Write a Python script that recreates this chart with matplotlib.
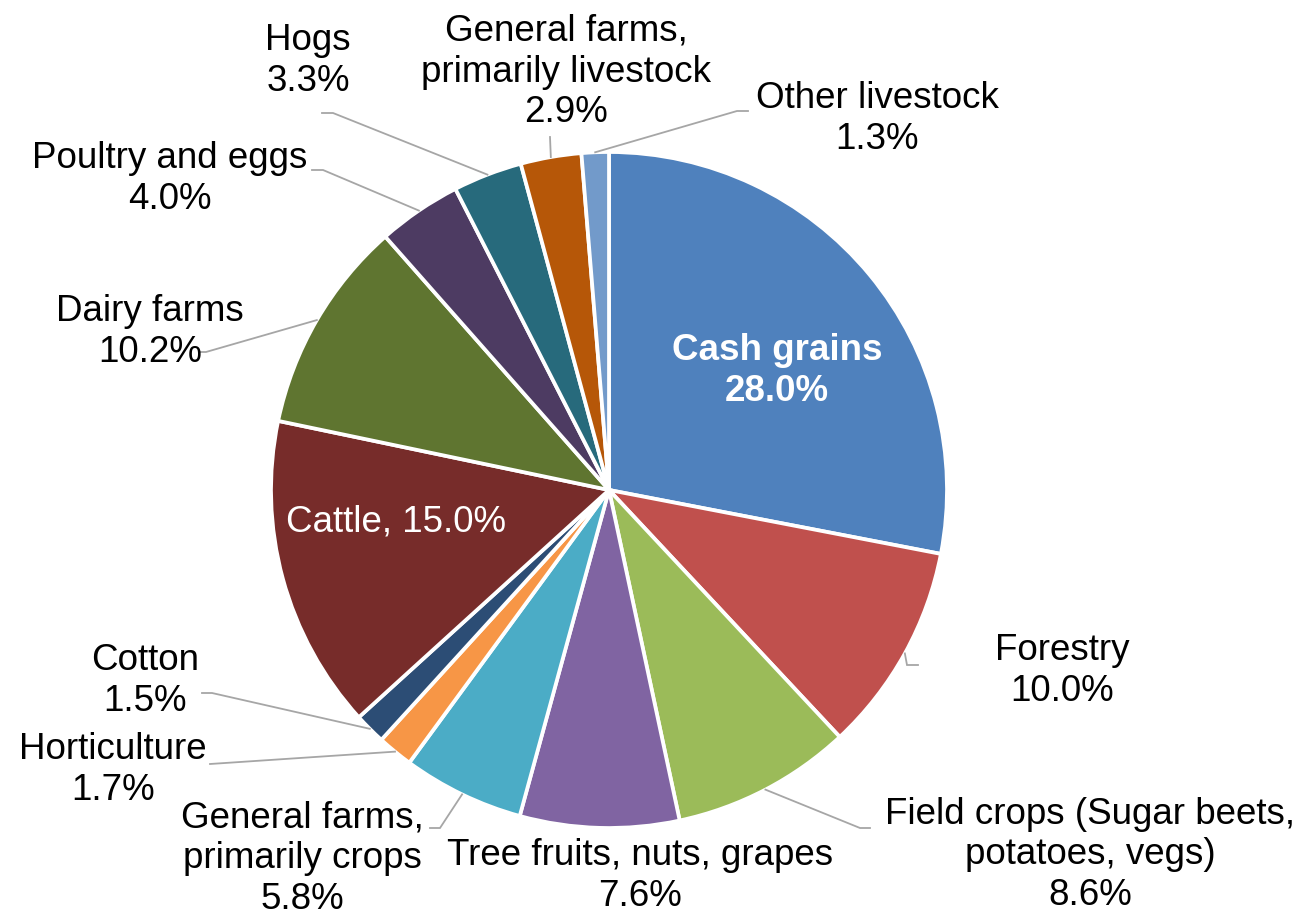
import numpy as np
import matplotlib
matplotlib.use("Agg")
import matplotlib.pyplot as plt

# data, clockwise from 12 o'clock
categories = ["Cash grains", "Forestry", "Field crops (Sugar beets,\npotatoes, vegs)",
              "Tree fruits, nuts, grapes", "General farms,\nprimarily crops", "Horticulture",
              "Cotton", "Cattle", "Dairy farms", "Poultry and eggs", "Hogs",
              "General farms,\nprimarily livestock", "Other livestock"]
shares = [28.0, 10.0, 8.6, 7.6, 5.8, 1.7, 1.5, 15.0, 10.2, 4.0, 3.3, 2.9, 1.3]
colors = ["#4F81BD", "#C0504D", "#9BBB59", "#8064A2", "#4BACC6", "#F79646", "#2C4D75",
          "#772C2A", "#5F7530", "#4D3B62", "#276A7C", "#B65708", "#729ACA"]

W, H = 1304, 918
CX, CY, R = 609, 490, 338   # pixel layout, y measured from top

# label centre (px, y down) and leader points (label end, elbow) -> rim
label_pos = [(777, 371), (1062, 671), (1090, 855), (640, 876), (302, 859), (113, 770),
             (145, 681), (396, 522), (150, 332), (170, 179), (308, 61), (566, 72), (877, 119)]
leaders = {1: [(918, 665), (907, 665)], 2: [(870, 828), (860, 828)],
           4: [(430, 828), (440, 828)], 5: [(210, 764)], 6: [(202, 693), (212, 693)],
           8: [(200, 352), (206, 352)], 9: [(312, 170), (323, 170)],
           10: [(322, 113), (333, 113)], 11: [(550, 137)], 12: [(748, 111), (737, 111)]}
inside = {0: "bold", 7: "normal"}

plt.rcParams['font.family'] = ['Liberation Sans', 'DejaVu Sans']

fig = plt.figure(figsize=(W / 100, H / 100), dpi=100)
ax = fig.add_axes([0, 0, 1, 1])

ax.pie(shares, colors=colors, startangle=90, counterclock=False,
       center=(CX, H - CY), radius=R,
       wedgeprops=dict(edgecolor='white', linewidth=2.7), frame=True)
ax.set_xlim(0, W)
ax.set_ylim(0, H)
ax.set_aspect('equal')
ax.axis('off')

cum = np.cumsum([0] + shares[:-1])
total = sum(shares)
for i, (name, val) in enumerate(zip(categories, shares)):
    x, y = label_pos[i]
    if i == 7:
        txt = f"{name}, {val:.1f}%"
    else:
        txt = f"{name}\n{val:.1f}%"
    if i in inside:
        ax.text(x, H - y, txt, ha='center', va='center', color='white',
                fontsize=26.5, fontweight=inside[i], linespacing=1.22)
    else:
        ax.text(x, H - y, txt, ha='center', va='center', color='black',
                fontsize=26.5, linespacing=1.22)
    if i in leaders:
        mid = (cum[i] + val / 2) / total * 2 * np.pi
        rim = (CX + R * np.sin(mid), CY - R * np.cos(mid))
        pts = leaders[i] + [rim]
        ax.plot([p[0] for p in pts], [H - p[1] for p in pts], color='#A6A6A6',
                lw=1.3, solid_joinstyle='miter')

fig.savefig("out.png", dpi=100)
